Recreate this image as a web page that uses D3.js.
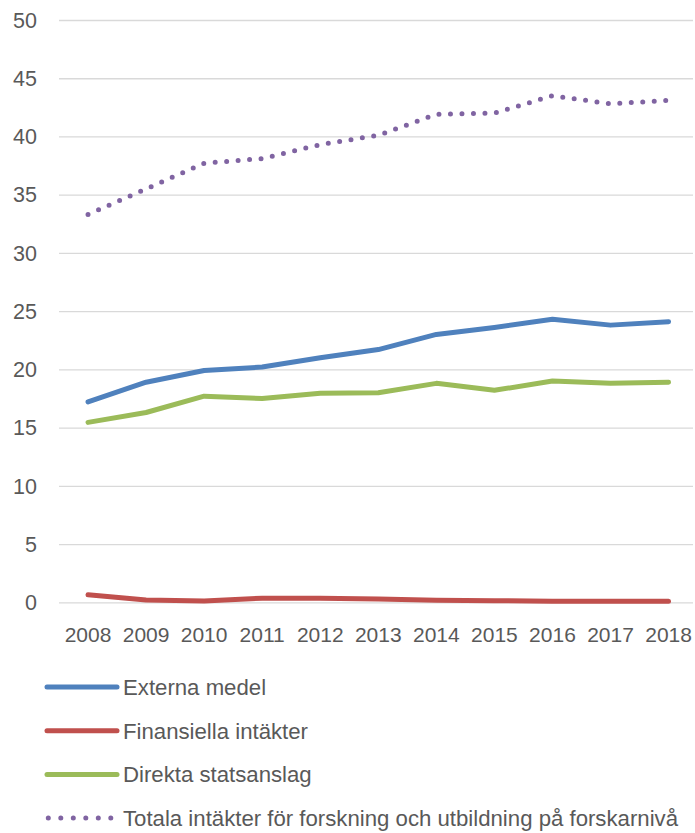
<!DOCTYPE html>
<html>
<head>
<meta charset="utf-8">
<script src="https://cdn.jsdelivr.net/npm/d3@7"></script>
<style>
  body { margin: 0; background: #fff; }
  .chart text { font-family: "Liberation Sans", Arial, sans-serif; fill: #595959; }
  .grid line { stroke: #d9d9d9; stroke-width: 1.3; }
  .grid path { display: none; }
</style>
</head>
<body>
<div class="chart"></div>
<script>
// data
let years = ["2008", "2009", "2010", "2011", "2012", "2013", "2014", "2015", "2016", "2017", "2018"];
let externaMedel = [17.2, 18.9, 19.9, 20.2, 21.0, 21.7, 23.0, 23.6, 24.3, 23.8, 24.1];
let finansiellaIntakter = [0.65, 0.2, 0.12, 0.35, 0.35, 0.28, 0.18, 0.14, 0.1, 0.1, 0.08];
let direktaStatsanslag = [15.45, 16.3, 17.7, 17.5, 17.95, 18.0, 18.8, 18.2, 19.0, 18.8, 18.9];
let totalaIntakter = [33.3, 35.5, 37.7, 38.1, 39.3, 40.1, 41.9, 42.0, 43.5, 42.8, 43.1];
let yTicks = [0, 5, 10, 15, 20, 25, 30, 35, 40, 45, 50];

let series = [
  { name: "Externa medel", values: externaMedel, color: "#4f81bd", dotted: false },
  { name: "Finansiella intäkter", values: finansiellaIntakter, color: "#c0504d", dotted: false },
  { name: "Direkta statsanslag", values: direktaStatsanslag, color: "#9bbb59", dotted: false },
  { name: "Totala intäkter för forskning och utbildning på forskarnivå", values: totalaIntakter, color: "#8064a2", dotted: true }
];

let svgWidth = 695;
let svgHeight = 833;

let plot = { left: 59, right: 697.6, top: 20, bottom: 602.3 };

let svg = d3.select(".chart")
  .append("svg")
  .attr("width", svgWidth)
  .attr("height", svgHeight);

let xScale = d3.scalePoint().domain(years).range([plot.left, plot.right]).padding(0.5);
let yScale = d3.scaleLinear().domain([0, 50]).range([plot.bottom, plot.top]);

// gridlines
svg.append("g")
  .attr("class", "grid")
  .attr("transform", `translate(${plot.left}, 0)`)
  .call(d3.axisLeft(yScale).tickValues(yTicks).tickSize(-(693 - plot.left)).tickFormat(""));

// y labels
svg.append("g")
  .selectAll("text")
  .data(yTicks)
  .enter()
  .append("text")
  .attr("x", 37)
  .attr("y", d => yScale(d))
  .attr("dy", "0.36em")
  .attr("text-anchor", "end")
  .attr("font-size", "21.5px")
  .text(d => d);

// x labels
svg.append("g")
  .selectAll("text")
  .data(years)
  .enter()
  .append("text")
  .attr("x", d => xScale(d))
  .attr("y", 641.5)
  .attr("text-anchor", "middle")
  .attr("font-size", "21px")
  .text(d => d);

let line = d3.line()
  .x((d, i) => xScale(years[i]))
  .y(d => yScale(d));

series.forEach(function(s) {
  svg.append("path")
    .datum(s.values)
    .attr("d", line)
    .attr("fill", "none")
    .attr("stroke", s.color)
    .attr("stroke-width", 5)
    .attr("stroke-linecap", "round")
    .attr("stroke-linejoin", "round")
    .attr("stroke-dasharray", s.dotted ? "0,11.5" : null);
});

// legend
let legendY = [687, 730.7, 774.4, 818];
let legend = svg.append("g")
  .selectAll("g")
  .data(series)
  .enter()
  .append("g")
  .attr("transform", (d, i) => `translate(0, ${legendY[i]})`);

legend.append("line")
  .attr("x1", d => d.dotted ? 48.3 : 47)
  .attr("x2", d => d.dotted ? 112 : 117)
  .attr("stroke", d => d.color)
  .attr("stroke-width", 5)
  .attr("stroke-linecap", "round")
  .attr("stroke-dasharray", d => d.dotted ? "0,12.5" : null);

legend.append("text")
  .attr("x", 123)
  .attr("dy", "0.36em")
  .attr("font-size", "22.2px")
  .text(d => d.name);
</script>
</body>
</html>
